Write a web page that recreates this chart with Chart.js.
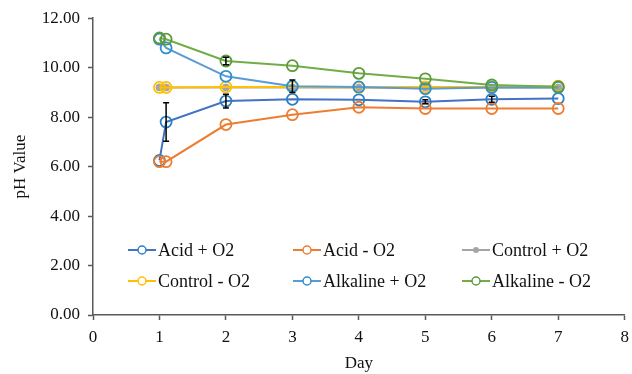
<!DOCTYPE html>
<html>
<head>
<meta charset="utf-8">
<script src="https://cdn.jsdelivr.net/npm/chart.js@4"></script>
<style>
  html, body { margin: 0; padding: 0; background: #fff; }
  #wrap { width: 632px; height: 374px; }
</style>
</head>
<body>
<div id="wrap"><canvas id="ph-chart"></canvas></div>
<script>
// Sampling days (second point is a few hours after day 1)
const days = [1, 1.1, 2, 3, 4, 5, 6, 7];

// pH readings per treatment
const acidPlus     = [6.25, 7.8, 8.65, 8.72, 8.7, 8.62, 8.72, 8.75];
const acidMinus    = [6.2, 6.2, 7.7, 8.1, 8.4, 8.35, 8.35, 8.35];
const controlPlus  = [9.2, 9.2, 9.2, 9.2, 9.2, 9.2, 9.2, 9.2];
const controlMinus = [9.2, 9.2, 9.22, 9.22, 9.2, 9.22, 9.22, 9.25];
const alkPlus      = [11.15, 10.8, 9.65, 9.25, 9.22, 9.15, 9.2, 9.2];
const alkMinus     = [11.2, 11.15, 10.27, 10.08, 9.77, 9.55, 9.3, 9.23];

// standard deviations (error bars), 0 = too small to see
const acidPlusErr  = [0, 0.78, 0.28, 0, 0, 0.08, 0.12, 0];
const alkPlusErr   = [0, 0, 0, 0.25, 0, 0, 0, 0];
const alkMinusErr  = [0, 0, 0.15, 0, 0, 0, 0, 0];

const yTicks = [0, 2, 4, 6, 8, 10, 12];
const xTicks = [0, 1, 2, 3, 4, 5, 6, 7, 8];

const seriesNames = ['Acid + O2', 'Acid - O2', 'Control + O2', 'Control - O2', 'Alkaline + O2', 'Alkaline - O2'];
const seriesValues = [acidPlus, acidMinus, controlPlus, controlMinus, alkPlus, alkMinus];
const seriesErrors = [acidPlusErr, null, null, null, alkPlusErr, alkMinusErr];
const seriesColors = ['#4472C4', '#ED7D31', '#A5A5A5', '#FFC000', '#5B9BD5', '#70AD47'];
const markerColors = ['#2E7FC0', '#ED7D31', '#A5A5A5', '#FFC000', '#2E8FD0', '#5E9A3C'];

const serif = '"Liberation Serif", "DejaVu Serif", serif';

function toPoints(vals) {
    return days.map((d, i) => ({ x: d, y: vals[i] }));
}

const datasets = seriesNames.map((name, i) => {
    const filled = i === 2;
    return {
        label: name,
        data: toPoints(seriesValues[i]),
        showLine: true,
        borderColor: seriesColors[i],
        borderWidth: 2,
        pointRadius: filled ? 3.5 : 5.5,
        pointBorderWidth: filled ? 1 : 1.8,
        pointBorderColor: markerColors[i],
        pointBackgroundColor: filled ? seriesColors[i] : 'rgba(255,255,255,0)',
        errors: seriesErrors[i],
        order: 6 - i
    };
});

// Error bars drawn from the errors arrays
const errorBars = {
    id: 'errorBars',
    afterDatasetsDraw(chart) {
        const ctx = chart.ctx;
        const ys = chart.scales.y;
        ctx.save();
        ctx.strokeStyle = '#000';
        ctx.lineWidth = 1.5;
        chart.data.datasets.forEach((ds, di) => {
            if (!ds.errors) return;
            const meta = chart.getDatasetMeta(di);
            meta.data.forEach((pt, i) => {
                const e = ds.errors[i];
                if (!e) return;
                const v = ds.data[i].y;
                const top = ys.getPixelForValue(v + e);
                const bot = ys.getPixelForValue(v - e);
                ctx.beginPath();
                ctx.moveTo(pt.x, top); ctx.lineTo(pt.x, bot);
                ctx.moveTo(pt.x - 3, top); ctx.lineTo(pt.x + 3, top);
                ctx.moveTo(pt.x - 3, bot); ctx.lineTo(pt.x + 3, bot);
                ctx.stroke();
            });
        });
        ctx.restore();
    }
};

// Legend inside the plot, 3 columns x 2 rows
const insideLegend = {
    id: 'insideLegend',
    afterDraw(chart) {
        const ctx = chart.ctx;
        const colX = [128, 293, 462];
        const rowY = [250, 281];
        ctx.save();
        ctx.font = '18px ' + serif;
        ctx.textBaseline = 'middle';
        chart.data.datasets.forEach((ds, i) => {
            const x = colX[i % 3];
            const y = rowY[Math.floor(i / 3)];
            ctx.strokeStyle = ds.borderColor;
            ctx.lineWidth = 2;
            ctx.beginPath();
            ctx.moveTo(x, y); ctx.lineTo(x + 28, y);
            ctx.stroke();
            ctx.beginPath();
            ctx.arc(x + 14, y, i === 2 ? 3 : 4, 0, Math.PI * 2);
            if (i === 2) {
                ctx.fillStyle = ds.borderColor;
                ctx.fill();
            } else {
                ctx.fillStyle = '#fff';
                ctx.fill();
                ctx.strokeStyle = ds.pointBorderColor;
                ctx.lineWidth = 1.5;
                ctx.stroke();
            }
            ctx.fillStyle = '#111';
            ctx.fillText(ds.label, x + 30, y + 1);
        });
        ctx.restore();
    }
};

new Chart(document.getElementById('ph-chart'), {
    type: 'scatter',
    data: { datasets: datasets },
    options: {
        responsive: true,
        maintainAspectRatio: false,
        animation: false,
        layout: { padding: { top: 12, right: 0, left: 8, bottom: 0 } },
        plugins: {
            legend: { display: false },
            tooltip: { enabled: false }
        },
        scales: {
            x: {
                type: 'linear',
                min: 0,
                max: 8,
                afterBuildTicks: axis => { axis.ticks = xTicks.map(v => ({ value: v })); },
                afterFit: scale => {
                    scale.height = 59;
                    scale.paddingRight = 3;
                    scale.paddingLeft = 0;
                },
                grid: { drawOnChartArea: false, tickLength: 5, color: '#595959', tickWidth: 1.5 },
                border: { color: '#595959', width: 1.5 },
                ticks: { color: '#111', font: { family: serif, size: 17 }, padding: 7, maxRotation: 0 },
                title: { display: true, text: 'Day', color: '#111', font: { family: serif, size: 17 }, padding: { top: 0, bottom: 0 } }
            },
            y: {
                min: 0,
                max: 12,
                afterBuildTicks: axis => { axis.ticks = yTicks.map(v => ({ value: v })); },
                afterFit: scale => { scale.width = 85; },
                grid: { drawOnChartArea: false, tickLength: 5, color: '#595959', tickWidth: 1.5 },
                border: { color: '#595959', width: 1.5 },
                ticks: {
                    color: '#111',
                    font: { family: serif, size: 17 },
                    padding: 8,
                    callback: v => v.toFixed(2)
                },
                title: { display: true, text: 'pH Value', color: '#111', font: { family: serif, size: 17 }, padding: { top: 2, bottom: 4 } }
            }
        }
    },
    plugins: [errorBars, insideLegend]
});
</script>
</body>
</html>
